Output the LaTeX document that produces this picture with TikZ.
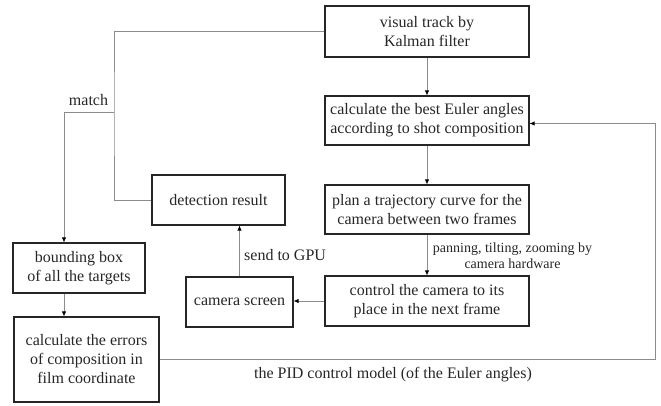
\documentclass[tikz,border=0pt]{standalone}
\usepackage{fontspec}
\setmainfont{Liberation Serif}
\usetikzlibrary{arrows.meta,calc}
\begin{document}
\begin{tikzpicture}[x=1pt,y=-1pt,
  box/.style={draw=black!85,line width=1.1pt,rectangle,align=center,inner sep=0pt,
    font=\fontsize{16}{19}\selectfont,text=black!85},
  conn/.style={draw=black!45,line width=0.8pt},
  arr/.style={conn,-{Latex[length=5pt,width=4.5pt,fill=black,color=black]}},
  lab/.style={font=\fontsize{16}{19}\selectfont,text=black!85,inner sep=0pt,align=center},
  slab/.style={font=\fontsize{14}{16}\selectfont,text=black!85,inner sep=0pt,align=center}]
\useasboundingbox (0,0) rectangle (661,405);
\node[box,minimum width=204pt,minimum height=51pt] (kal) at (427,31.5) {visual track by\\Kalman filter};
\node[box,minimum width=204pt,minimum height=49pt] (eul) at (427,120.5) {calculate the best Euler angles\\according to shot composition};
\node[box,minimum width=204pt,minimum height=49pt] (plan) at (427,209.5) {plan a trajectory curve for the\\camera between two frames};
\node[box,minimum width=204pt,minimum height=50pt] (ctrl) at (427,301) {control the camera to its\\place in the next frame};
\node[box,minimum width=107pt,minimum height=50pt] (cam) at (239.5,302) {camera screen};
\node[box,minimum width=133pt,minimum height=50pt] (det) at (218.5,200) {detection result};
\node[box,minimum width=132pt,minimum height=50pt] (bb) at (79,268) {bounding box\\of all the targets};
\node[box,minimum width=145pt,minimum height=85pt] (err) at (86.5,359.5) {calculate the errors\\of composition in\\film coordinate};
\coordinate (j1) at (114,112);
\coordinate (pr) at (655,0);
\draw[conn] (kal.west) -| (j1) |- (det.west);
\draw[arr] (j1) -| ([xshift=-15pt]bb.north);
\draw[arr] ([xshift=-15pt]bb.south) -- ([xshift=-15pt]bb.south |- err.north);
\draw[arr] (kal.south) -- (eul.north);
\draw[arr] (eul.south) -- (plan.north);
\draw[arr] (plan.south) -- (ctrl.north);
\draw[arr] (ctrl.west) -- (ctrl.west -| cam.east);
\draw[arr] (cam.north) -- (cam.north |- det.south);
\draw[arr] (err.east) -- (err.east -| pr) |- ([yshift=-3pt]eul.east);
\node[lab] (mt) at (88.5,100) {match};
\node[lab,anchor=west] (gpu) at (244,255) {send to GPU};
\node[slab] (pan) at (512.5,256) {panning, tilting, zooming by\\camera hardware};
\node[lab] (pid) at (393,375) {the PID control model (of the Euler angles)};
\end{tikzpicture}
\end{document}
